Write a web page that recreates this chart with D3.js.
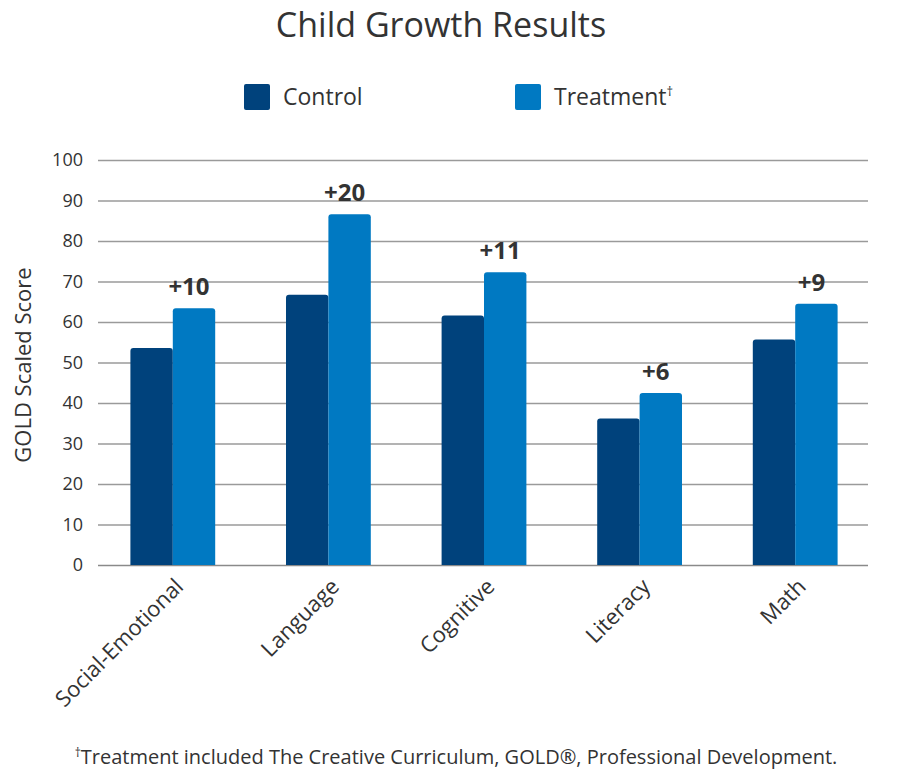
<!DOCTYPE html>
<html>
<head>
<meta charset="utf-8">
<script src="https://cdn.jsdelivr.net/npm/d3@7"></script>
<style>
  body { margin: 0; background: #fff; }
  text { font-family: "Open Sans", sans-serif; fill: #333; }
</style>
</head>
<body>
<div id="chart"></div>
<script>
const categories = ['Social-Emotional', 'Language', 'Cognitive', 'Literacy', 'Math'];
const series = ['Control', 'Treatment'];
const control = [53.6, 66.7, 61.6, 36.2, 55.7];
const treatment = [63.4, 86.6, 72.3, 42.5, 64.5];
const gains = ['+10', '+20', '+11', '+6', '+9'];
const yTicks = [0, 10, 20, 30, 40, 50, 60, 70, 80, 90, 100];

const colors = {Control: '#00427c', Treatment: '#0079c2'};

const width = 902, height = 784;
const plot = {left: 98, right: 868, top: 160, bottom: 565};

const svg = d3.select('#chart').append('svg')
  .attr('width', width)
  .attr('height', height);

// title
svg.append('text')
  .attr('x', 441).attr('y', 37)
  .attr('text-anchor', 'middle')
  .style('font-size', '34px')
  .text('Child Growth Results');

// legend
const legend = svg.append('g');
[[244, 'Control'], [515, 'Treatment']].forEach(([lx, name]) => {
  legend.append('rect')
    .attr('x', lx).attr('y', 84).attr('width', 26).attr('height', 26).attr('rx', 2)
    .attr('fill', colors[name]);
  const t = legend.append('text')
    .attr('x', lx + 39).attr('y', 105)
    .style('font-size', '23px')
    .text(name);
  if (name === 'Treatment') {
    t.append('tspan').attr('dy', -9).style('font-size', '13px').text('\u2020');
  }
});

const x = d3.scaleBand()
  .domain(categories)
  .range([95, 873])
  .paddingInner(0.455)
  .paddingOuter(0.2275);

const x1 = d3.scaleBand()
  .domain(series)
  .range([0, x.bandwidth()]);

const y = d3.scaleLinear()
  .domain([0, 100])
  .range([plot.bottom, plot.top]);

// grid
const grid = svg.append('g')
  .attr('transform', `translate(${plot.left},0)`)
  .call(d3.axisLeft(y).tickValues(yTicks).tickSize(-(plot.right - plot.left)).tickFormat(''));
grid.select('.domain').remove();
grid.selectAll('.tick line')
  .attr('stroke', d => d === 0 ? '#8a8a8a' : '#9a9a9a')
  .attr('stroke-width', 1.5);

// y labels
const yAxis = svg.append('g')
  .attr('transform', 'translate(83,0)')
  .call(d3.axisLeft(y).tickValues(yTicks).tickSize(0).tickPadding(0));
yAxis.select('.domain').remove();
yAxis.selectAll('text')
  .style('font-family', '"Open Sans", sans-serif')
  .style('font-size', '18px')
  .attr('fill', '#333');

svg.append('text')
  .attr('transform', 'translate(31,365) rotate(-90)')
  .attr('text-anchor', 'middle')
  .style('font-size', '22px')
  .text('GOLD Scaled Score');

// bars with rounded tops
function topRounded(x0, y0, w, h, r) {
  return `M${x0},${y0 + h}V${y0 + r}Q${x0},${y0} ${x0 + r},${y0}H${x0 + w - r}Q${x0 + w},${y0} ${x0 + w},${y0 + r}V${y0 + h}Z`;
}

const rows = categories.map((c, i) => ({cat: c, Control: control[i], Treatment: treatment[i], gain: gains[i]}));

const groups = svg.append('g').selectAll('g')
  .data(rows)
  .join('g')
  .attr('transform', d => `translate(${x(d.cat)},0)`);

groups.selectAll('path')
  .data(d => series.map(s => ({s, v: d[s]})))
  .join('path')
  .attr('fill', d => colors[d.s])
  .attr('d', d => topRounded(x1(d.s), y(d.v), x1.bandwidth(), y(0) - y(d.v), 3));

groups.append('text')
  .attr('x', x1('Treatment') + x1.bandwidth() / 2 - 5)
  .attr('y', d => y(d.Treatment) - 13)
  .attr('text-anchor', 'middle')
  .style('font-size', '24px')
  .style('font-weight', 'bold')
  .text(d => d.gain);

// x labels
svg.append('g').selectAll('text')
  .data(categories)
  .join('text')
  .attr('transform', d => `translate(${x(d) + x.bandwidth() / 2 + 12},588) rotate(-45)`)
  .attr('text-anchor', 'end')
  .style('font-size', '22px')
  .text(d => d);

// footnote
const fn = svg.append('text')
  .attr('x', 456).attr('y', 764)
  .attr('text-anchor', 'middle')
  .style('font-size', '20px')
  .attr('fill', '#444');
fn.append('tspan').attr('dy', -7).style('font-size', '12px').text('\u2020');
fn.append('tspan').attr('dy', 7).text('Treatment included The Creative Curriculum, GOLD\u00ae, Professional Development.');
</script>
</body>
</html>
